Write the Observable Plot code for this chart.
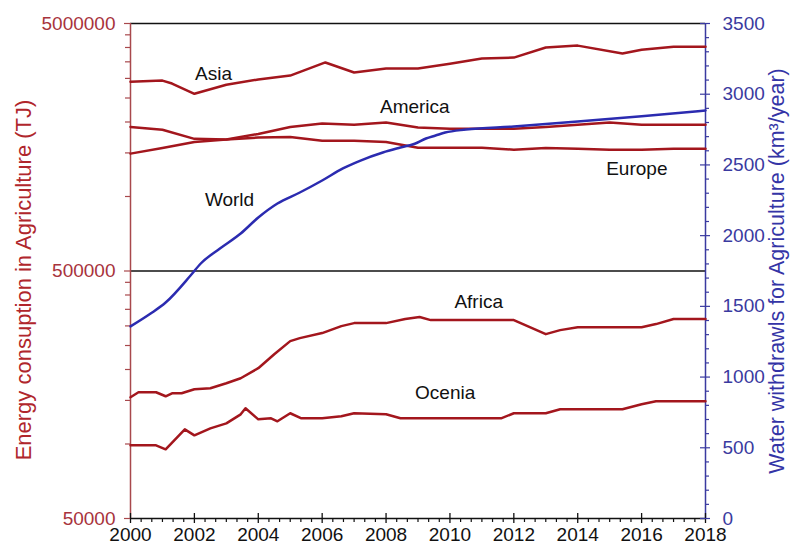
<!DOCTYPE html>
<html>
<head>
<meta charset="utf-8">
<script src="https://cdn.jsdelivr.net/npm/d3@7"></script>
<script src="https://cdn.jsdelivr.net/npm/@observablehq/plot@0.6"></script>
<style>
  html, body { margin: 0; padding: 0; background: #fff; }
  svg { display: block; }
</style>
</head>
<body>
<div id="chart"></div>
<script>
// Energy consumption in agriculture by region (TJ, log scale, left axis)
// and world water withdrawals for agriculture (km³/year, linear, right axis).

const asia = [
  [2000, 2910000], [2001, 2940000], [2001.3, 2860000], [2002, 2600000], [2003, 2830000],
  [2004, 2970000], [2005, 3080000], [2006.1, 3480000], [2007, 3170000], [2008, 3290000],
  [2009, 3290000], [2010, 3440000], [2011, 3610000], [2012, 3640000], [2013, 4000000],
  [2014, 4070000], [2015.4, 3780000], [2016, 3920000], [2017, 4030000], [2018, 4030000]
];

const america = [
  [2000, 1490000], [2001, 1570000], [2002, 1660000], [2003, 1700000], [2004, 1790000],
  [2005, 1910000], [2006, 1970000], [2007, 1950000], [2008, 1990000], [2009, 1900000],
  [2010, 1880000], [2011, 1880000], [2012, 1880000], [2013, 1910000], [2014, 1950000],
  [2015, 1990000], [2016, 1950000], [2017, 1950000], [2018, 1950000]
];

const europe = [
  [2000, 1910000], [2001, 1860000], [2002, 1710000], [2003, 1700000], [2004, 1730000],
  [2005, 1740000], [2006, 1680000], [2007, 1680000], [2008, 1660000], [2009, 1575000],
  [2010, 1575000], [2011, 1575000], [2012, 1545000], [2013, 1570000], [2014, 1560000],
  [2015, 1545000], [2016, 1545000], [2017, 1560000], [2018, 1560000]
];

const africa = [
  [2000, 154500], [2000.25, 161800], [2000.8, 161800], [2001.1, 155900], [2001.3, 160300],
  [2001.6, 160300], [2002, 166400], [2002.5, 168000], [2003, 176000], [2003.45, 184400],
  [2004, 202400], [2004.5, 230600], [2005, 260400], [2005.3, 267800], [2006, 280600],
  [2006.6, 299400], [2007, 307900], [2008, 307900], [2008.6, 319700], [2009.05, 325700],
  [2009.4, 316700], [2012, 316700], [2012.5, 296500], [2013, 277900], [2013.45, 288500],
  [2014, 296500], [2016, 296500], [2016.45, 305100], [2017, 319700], [2018, 319700]
];

const ocenia = [
  [2000, 98800], [2000.8, 98800], [2001.1, 95200], [2001.7, 114600], [2002, 108400],
  [2002.5, 115700], [2003, 121200], [2003.45, 131800], [2003.6, 139400], [2004, 125800],
  [2004.4, 127000], [2004.6, 123500], [2005, 133100], [2005.35, 127000], [2006, 127000],
  [2006.6, 129400], [2007, 133100], [2008, 131800], [2008.45, 127000], [2011.6, 127000],
  [2012, 133100], [2013, 133100], [2013.45, 138100], [2015.4, 138100], [2016, 144700],
  [2016.45, 148800], [2018, 148800]
];

// World water withdrawals for agriculture, km³/year
const world = [
  [2000, 1358], [2000.63, 1449], [2001.1, 1527], [2001.88, 1718], [2002.2, 1803],
  [2002.8, 1909], [2003.45, 2015], [2004, 2128], [2004.6, 2227], [2005.3, 2305],
  [2006, 2390], [2006.65, 2475], [2007.2, 2531], [2007.9, 2588], [2008.45, 2623],
  [2008.9, 2650], [2009.25, 2687], [2009.55, 2708], [2009.85, 2729], [2010.5, 2750],
  [2012, 2772], [2014, 2807], [2016, 2845], [2018, 2885]
];

// Series labels (energy values on the left axis; World on the right axis)
const labelNames = ["Asia", "America", "Europe", "Africa", "Ocenia"];
const labelYears = [2002.6, 2008.9, 2015.85, 2010.9, 2009.85];
const labelEnergy = [3140000, 2310000, 1294000, 374500, 160300];
const worldLabel = { name: "World", year: 2003.1, water: 2250 };

// Tick values
const yearTicks = [2000, 2002, 2004, 2006, 2008, 2010, 2012, 2014, 2016, 2018];
const energyTicks = [50000, 500000, 5000000];
const energyMinor = [100000, 150000, 200000, 250000, 300000, 350000, 400000, 450000,
                     1000000, 1500000, 2000000, 2500000, 3000000, 3500000, 4000000, 4500000];
const waterTicks = [0, 500, 1000, 1500, 2000, 2500, 3000, 3500];

const red = "#a3161d";
const redAxis = "#a8484c";
const redText = "#a8333c";
const blue = "#2b2bb0";
const blueAxis = "#3a3aa0";
const font = "'Liberation Sans', Arial, Helvetica, sans-serif";

// The right (linear) axis shares the left log scale: 0 → 50000, 3500 → 5000000.
const waterToEnergy = w => 50000 * Math.pow(100, w / 3500);

const yearMinor = d3.range(1, 54).filter(k => k % 6 !== 0).map(k => 2000 + k / 3);
const waterMinor = d3.range(0, 3600, 100).filter(w => w % 500 !== 0);

const frameW = 791 - 130 - 86;
const frameH = 551 - 23 - 33;

const regions = [asia, america, europe, africa, ocenia];

const chart = Plot.plot({
  width: 791,
  height: 551,
  marginLeft: 130,
  marginRight: 86,
  marginTop: 23,
  marginBottom: 33,
  style: { fontFamily: font, fontSize: "19px", background: "#fff", overflow: "visible" },
  x: { domain: [2000, 2018], axis: null },
  y: { type: "log", domain: [50000, 5000000], axis: null },
  marks: [
    // frame lines
    Plot.ruleY([5000000, 500000], { stroke: "#111", strokeWidth: 1.5 }),
    Plot.ruleY([50000], { stroke: "#111", strokeWidth: 1.5 }),
    Plot.ruleX([2000], { stroke: redAxis, strokeWidth: 1.5 }),
    Plot.ruleX([2018], { stroke: blueAxis, strokeWidth: 1.5 }),

    // bottom axis ticks
    Plot.ruleX(yearTicks, { x: d => d, insetTop: frameH - 5, insetBottom: -5, stroke: "#111", strokeWidth: 1.3 }),
    Plot.ruleX(yearMinor, { x: d => d, insetTop: frameH, insetBottom: -4, stroke: "#111", strokeWidth: 1.2 }),
    Plot.text(yearTicks, { x: d => d, text: d => String(d), frameAnchor: "bottom", dy: 22, fill: "#111", fontSize: 19 }),

    // left axis ticks and labels
    Plot.ruleY(energyTicks, { y: d => d, insetLeft: -6, insetRight: frameW, stroke: redAxis, strokeWidth: 1.2 }),
    Plot.ruleY(energyMinor, { y: d => d, insetLeft: -5, insetRight: frameW, stroke: redAxis, strokeWidth: 1.2 }),
    Plot.text(energyTicks, { y: d => d, text: d => String(d), frameAnchor: "left", textAnchor: "end", dx: -15, fill: redText, fontSize: 19 }),

    // right axis ticks and labels
    Plot.ruleY(waterTicks, { y: d => waterToEnergy(d), insetLeft: frameW - 5, insetRight: -5, stroke: blueAxis, strokeWidth: 1.2 }),
    Plot.ruleY(waterMinor, { y: d => waterToEnergy(d), insetLeft: frameW, insetRight: -4, stroke: blueAxis, strokeWidth: 1.2 }),
    Plot.text(waterTicks, { y: d => waterToEnergy(d), text: d => String(d), frameAnchor: "right", textAnchor: "start", dx: 17, fill: blueAxis, fontSize: 19 }),

    // axis titles
    Plot.text(["Energy consuption in Agriculture (TJ)"], {
      text: d => d, frameAnchor: "left", textAnchor: "middle", dx: -107, dy: 9, rotate: -90, fill: "#b0262c", fontSize: 22
    }),
    Plot.text(["Water withdrawls for Agriculture (km³/year)"], {
      text: d => d, frameAnchor: "right", textAnchor: "middle", dx: 72, dy: 0, rotate: -90, fill: "#3434a6", fontSize: 21.5
    }),

    // regional energy series
    ...regions.map(series => Plot.line(series, {
      x: d => d[0], y: d => d[1], stroke: red, strokeWidth: 2.5, strokeLinejoin: "round"
    })),

    // world water withdrawals
    Plot.line(world, {
      x: d => d[0], y: d => waterToEnergy(d[1]), stroke: blue, strokeWidth: 2.5, curve: "monotone-x"
    }),

    // series labels
    Plot.text(labelNames, {
      x: (d, i) => labelYears[i], y: (d, i) => labelEnergy[i], text: d => d, fill: "#111", fontSize: 19
    }),
    Plot.text([worldLabel], {
      x: d => d.year, y: d => waterToEnergy(d.water), text: d => d.name, fill: "#111", fontSize: 19
    })
  ]
});

document.getElementById("chart").appendChild(chart);
</script>
</body>
</html>
